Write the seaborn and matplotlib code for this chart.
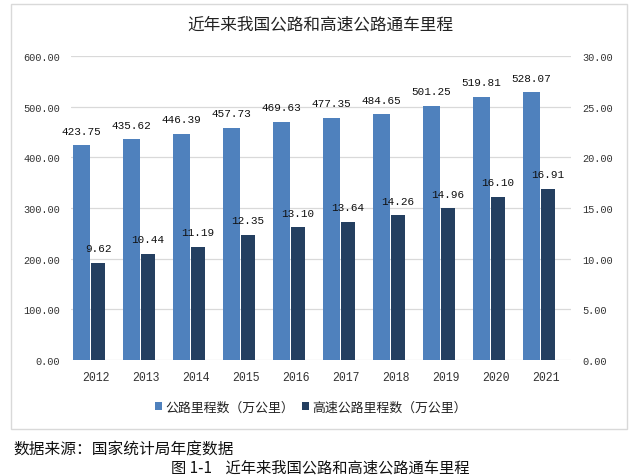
import matplotlib
matplotlib.use("Agg")
import matplotlib.pyplot as plt
from matplotlib.patches import Rectangle, Patch
import numpy as np
import pandas as pd
import seaborn as sns

years = [2012, 2013, 2014, 2015, 2016, 2017, 2018, 2019, 2020, 2021]
road_km = [423.75, 435.62, 446.39, 457.73, 469.63, 477.35, 484.65, 501.25, 519.81, 528.07]
highway_km = [9.62, 10.44, 11.19, 12.35, 13.10, 13.64, 14.26, 14.96, 16.10, 16.91]
left_ticks = [0, 100, 200, 300, 400, 500, 600]
right_ticks = [0, 5, 10, 15, 20, 25, 30]
series_names = ["公路里程数（万公里）", "高速公路里程数（万公里）"]
title = "近年来我国公路和高速公路通车里程"
source = "数据来源：国家统计局年度数据"
caption = "图 1-1    近年来我国公路和高速公路通车里程"

c_light = "#4F81BD"
c_dark = "#243F60"

sns.set_theme(style="white")
plt.rcParams["font.family"] = ["Noto Sans CJK SC", "DejaVu Sans"]

W, H = 640, 477
fig = plt.figure(figsize=(W / 100, H / 100), dpi=100)
ax = fig.add_axes([71 / W, 1 - 361 / H, 500 / W, 304 / H])
ax2 = ax.twinx()

df = pd.DataFrame({"year": years, "road": road_km, "highway": highway_km})
df["x_road"] = df["year"] - 0.29
df["x_hw"] = df["year"] + 0.04

sns.barplot(data=df, x="x_road", y="road", native_scale=True, width=0.34,
            color=c_light, saturation=1, ax=ax, linewidth=0)
sns.barplot(data=df, x="x_hw", y="highway", native_scale=True, width=0.29,
            color=c_dark, saturation=1, ax=ax2, linewidth=0)

ax.set_ylim(0, 600)
ax2.set_ylim(0, 30)
ax.set_xlim(2011.5, 2021.5)
ax.set_xticks(years)
ax.set_xticklabels([str(y) for y in years])
ax.set_yticks(left_ticks)
ax.set_yticklabels([f"{v:.2f}" for v in left_ticks])
ax2.set_yticks(right_ticks)
ax2.set_yticklabels([f"{v:.2f}" for v in right_ticks])
ax.set_xlabel("")
ax.set_ylabel("")
ax2.set_ylabel("")

ax.grid(axis="y", color="#d9d9d9", linewidth=0.9)
ax.set_axisbelow(True)
ax2.grid(False)
for a in (ax, ax2):
    for s in a.spines.values():
        s.set_visible(False)
    a.patch.set_visible(False)

mono = ["Liberation Mono", "DejaVu Sans Mono"]
ax.tick_params(axis="y", length=0, pad=8, labelsize=7.4, labelcolor="#333333")
ax2.tick_params(axis="y", length=0, pad=8, labelsize=7.4, labelcolor="#333333")
ax.tick_params(axis="x", length=0, pad=8, labelsize=8.3, labelcolor="#333333")
for lab in ax.get_yticklabels() + ax2.get_yticklabels() + ax.get_xticklabels():
    lab.set_family(mono)

ax.bar_label(ax.containers[0], labels=[f"{v:.2f}" for v in road_km], padding=7,
             fontsize=7.9, family=mono, color="#111111")
ax2.bar_label(ax2.containers[0], labels=[f"{v:.2f}" for v in highway_km], padding=7,
              fontsize=7.9, family=mono, color="#111111")

fig.text(320 / W, 1 - 24.5 / H, title, ha="center", va="center", fontsize=12, color="#222222")

handles = [Patch(facecolor=c_light, edgecolor="none"), Patch(facecolor=c_dark, edgecolor="none")]
fig.legend(handles, series_names, loc="center", bbox_to_anchor=(311 / W, 1 - 408 / H), ncol=2,
           frameon=False, fontsize=9.3, handlelength=0.55, handleheight=0.55,
           handletextpad=0.25, columnspacing=0.6, labelcolor="#222222")

fig.add_artist(Rectangle((11 / W, 1 - 430 / H), (627 - 11) / W, (430 - 5) / H,
                         transform=fig.transFigure, fill=False, edgecolor="#d9d9d9", linewidth=1))

fig.text(13 / W, 1 - 450 / H, source, ha="left", va="center", fontsize=11.3, color="#111111")
fig.text(320 / W, 1 - 468 / H, caption, ha="center", va="center", fontsize=11, color="#111111")

fig.savefig("out.png", dpi=100)
